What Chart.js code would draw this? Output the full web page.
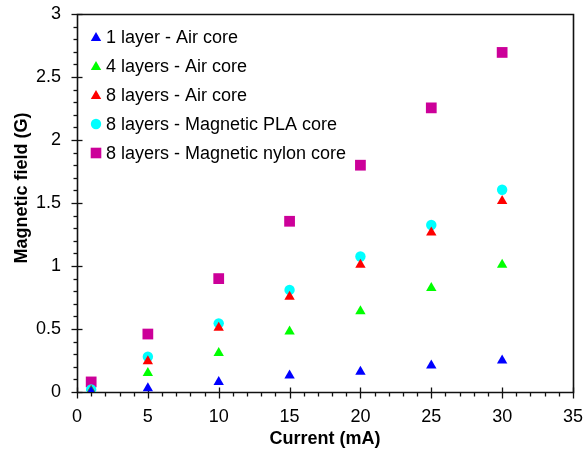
<!DOCTYPE html>
<html>
<head>
<meta charset="utf-8">
<script src="https://cdn.jsdelivr.net/npm/chart.js@4.4.1/dist/chart.umd.min.js"></script>
<style>
html,body{margin:0;padding:0;background:#fff;}
#wrap{width:588px;height:450px;}
</style>
</head>
<body>
<div id="wrap"><canvas id="c" width="588" height="450"></canvas></div>
<script>
const currents = [1, 5, 10, 15, 20, 25, 30];
const oneLayerAir = [0.00, 0.03, 0.08, 0.13, 0.16, 0.21, 0.25];
const fourLayersAir = [0.005, 0.15, 0.31, 0.48, 0.64, 0.825, 1.01];
const eightLayersAir = [0.01, 0.245, 0.51, 0.755, 1.01, 1.265, 1.515];
const eightLayersPLA = [0.02, 0.28, 0.545, 0.81, 1.075, 1.325, 1.605];
const eightLayersNylon = [0.08, 0.46, 0.90, 1.355, 1.80, 2.255, 2.695];
const seriesNames = ['1 layer - Air core', '4 layers - Air core', '8 layers - Air core', '8 layers - Magnetic PLA core', '8 layers - Magnetic nylon core'];
const xTicks = [0, 5, 10, 15, 20, 25, 30, 35];
const yTicks = [0, 0.5, 1, 1.5, 2, 2.5, 3];
const xTitle = 'Current (mA)';
const yTitle = 'Magnetic field (G)';

const FONT = "Arial, 'Liberation Sans', sans-serif";
const colors = ['#0000FF', '#00FF00', '#FF0000', '#00FFFF', '#CC0099'];
const styles = ['triangle', 'triangle', 'triangle', 'circle', 'rect'];
const radii = [6, 6, 6, 5.2, 7.6];
const allSeries = [oneLayerAir, fourLayersAir, eightLayersAir, eightLayersPLA, eightLayersNylon];

const datasets = allSeries.map((vals, i) => ({
  label: seriesNames[i],
  data: currents.map((x, j) => ({x: x, y: vals[j]})),
  pointStyle: styles[i],
  pointRadius: radii[i],
  pointHoverRadius: radii[i],
  backgroundColor: colors[i],
  borderColor: colors[i],
  borderWidth: 0,
  showLine: false
}));

function drawMarker(ctx, style, x, y, r, color) {
  ctx.save();
  ctx.fillStyle = color;
  ctx.beginPath();
  if (style === 'triangle') {
    ctx.moveTo(x, y - r);
    ctx.lineTo(x + r * Math.sin(Math.PI / 3), y + r / 2);
    ctx.lineTo(x - r * Math.sin(Math.PI / 3), y + r / 2);
    ctx.closePath();
  } else if (style === 'circle') {
    ctx.arc(x, y, r, 0, Math.PI * 2);
  } else {
    const s = Math.SQRT1_2 * r;
    ctx.rect(x - s, y - s, 2 * s, 2 * s);
  }
  ctx.fill();
  ctx.restore();
}

const framePlugin = {
  id: 'frame',
  beforeDatasetsDraw(chart) {
    const ctx = chart.ctx;
    const a = chart.chartArea;
    const xs = chart.scales.x, ys = chart.scales.y;
    ctx.save();
    ctx.strokeStyle = '#111';
    ctx.lineWidth = 1.6;
    ctx.beginPath();
    ctx.rect(Math.round(a.left) + 0.5, Math.round(a.top) + 0.5, Math.round(a.right - a.left), Math.round(a.bottom - a.top));
    ctx.stroke();
    ctx.lineWidth = 1.3;
    const yb = Math.round(a.bottom) + 0.5;
    for (let v = xs.min; v <= xs.max; v += 1) {
      const px = Math.round(xs.getPixelForValue(v)) + 0.5;
      ctx.beginPath();
      if (v % 5 === 0) { ctx.moveTo(px, yb - 5); ctx.lineTo(px, yb + 6); }
      else { ctx.moveTo(px, yb); ctx.lineTo(px, yb + 4); }
      ctx.stroke();
    }
    const xl = Math.round(a.left) + 0.5;
    for (let k = 0; k <= 30; k++) {
      const v = k / 10;
      const py = Math.round(ys.getPixelForValue(v)) + 0.5;
      ctx.beginPath();
      if (k % 5 === 0) { ctx.moveTo(xl - 6, py); ctx.lineTo(xl + 5, py); }
      else { ctx.moveTo(xl - 4, py); ctx.lineTo(xl, py); }
      ctx.stroke();
    }
    // y axis title
    ctx.save();
    ctx.translate(22, 188);
    ctx.rotate(-Math.PI / 2);
    ctx.font = 'bold 18px ' + FONT;
    ctx.fillStyle = '#000';
    ctx.textAlign = 'center';
    ctx.textBaseline = 'middle';
    ctx.fillText(yTitle, 0, 0);
    ctx.restore();
    ctx.restore();
  },
  afterDatasetsDraw(chart) {
    const ctx = chart.ctx;
    const a = chart.chartArea;
    ctx.save();
    ctx.font = '18px ' + FONT;
    ctx.fillStyle = '#000';
    ctx.textBaseline = 'middle';
    ctx.textAlign = 'left';
    chart.data.datasets.forEach((ds, i) => {
      const cy = a.top + 23 + i * 29;
      const cx = a.left + 19;
      const ry = ds.pointStyle === 'triangle' ? cy + 1 : cy;
      drawMarker(ctx, ds.pointStyle, cx, ry, ds.pointStyle === 'rect' ? 7.5 : (ds.pointStyle === 'circle' ? 5.2 : 6), ds.backgroundColor);
      ctx.fillText(ds.label, a.left + 29, cy + 1);
    });
    ctx.restore();
  }
};

new Chart(document.getElementById('c'), {
  type: 'scatter',
  data: { datasets: datasets },
  options: {
    responsive: false,
    animation: false,
    devicePixelRatio: 1,
    layout: { padding: { left: 0, right: 15, top: 14, bottom: 0 } },
    plugins: { legend: { display: false }, tooltip: { enabled: false } },
    scales: {
      x: {
        type: 'linear', min: 0, max: 35,
        afterFit(s) { s.height = 58; s.paddingLeft = 0; s.paddingRight = 0; },
        afterBuildTicks(s) { s.ticks = xTicks.map(v => ({value: v})); },
        grid: { display: false },
        border: { display: false },
        ticks: { color: '#000', font: { family: FONT, size: 18 }, padding: 6, maxRotation: 0 },
        title: { display: true, text: xTitle, color: '#000', font: { family: FONT, size: 18, weight: 'bold' }, padding: { top: 0, bottom: 0 } }
      },
      y: {
        type: 'linear', min: 0, max: 3,
        afterFit(s) { s.width = 77; s.paddingTop = 0; s.paddingBottom = 0; },
        afterBuildTicks(s) { s.ticks = yTicks.map(v => ({value: v})); },
        grid: { display: false },
        border: { display: false },
        ticks: { color: '#000', font: { family: FONT, size: 18 }, padding: 8, callback: v => String(v) },
        title: { display: false }
      }
    }
  },
  plugins: [framePlugin]
});
</script>
</body>
</html>
